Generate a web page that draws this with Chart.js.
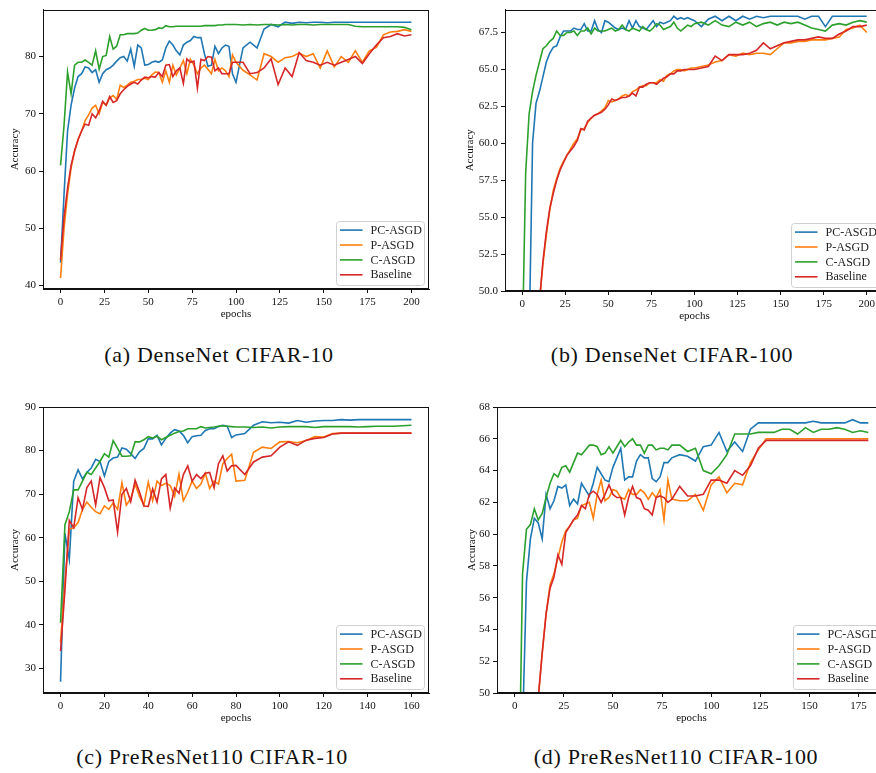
<!DOCTYPE html>
<html>
<head>
<meta charset="utf-8">
<script src="https://cdn.jsdelivr.net/npm/chart.js@4.4.1/dist/chart.umd.min.js"></script>
<style>
html, body { margin: 0; padding: 0; overflow: hidden; background: #fff; }
body { width: 876px; height: 773px; position: relative; }
canvas { position: absolute; }
.cap { position: absolute; font-family: "Liberation Serif", "DejaVu Serif", serif; font-size: 22px; letter-spacing: 0.7px;
       color: #111; transform: translate(-50%, -50%); white-space: nowrap; }
</style>
</head>
<body>
<canvas id="cA" width="440" height="325" style="left:0;top:0"></canvas>
<canvas id="cB" width="440" height="325" style="left:460px;top:0"></canvas>
<canvas id="cC" width="440" height="335" style="left:0;top:395px"></canvas>
<canvas id="cD" width="440" height="335" style="left:460px;top:395px"></canvas>
<div class="cap" style="left:219px;top:355px">(a) DenseNet CIFAR-10</div>
<div class="cap" style="left:672px;top:355px">(b) DenseNet CIFAR-100</div>
<div class="cap" style="left:212px;top:757px">(c) PreResNet110 CIFAR-10</div>
<div class="cap" style="left:676px;top:757px">(d) PreResNet110 CIFAR-100</div>
<script>
const names = ["PC-ASGD", "P-ASGD", "C-ASGD", "Baseline"];
const colors = ["#1f77b4", "#ff7f0e", "#2ca02c", "#d62728"];

// (a) DenseNet CIFAR-10
const epochsA = [0,2,4,6,8,10,12,14,16,18,20,22,24,26,28,30,32,34,36,38,40,42,44,46,48,50,52,54,56,58,60,62,64,66,68,70,72,74,76,78,80,82,84,86,88,90,92,94,96,98,100,
  104,108,112,116,120,124,128,132,136,140,144,148,152,156,160,164,168,172,176,180,184,188,192,196,200];
const pcA = [44,56,67,71.5,74.5,76.5,77,78.2,78,77.2,77.7,75.5,77,77.7,78,78.5,79.2,79.8,80,79.2,81.3,78.3,82,81.5,78.5,78.6,79,79.2,79,79.4,81.5,82.7,82,81,80.3,82,82.5,82.8,83.5,83.3,83.3,80.5,78.3,78.5,81.8,80.5,81.5,82,81.8,77,75.5,
  81.5,82.5,81.5,84.8,85.6,85.2,86,85.8,86,85.9,86,86,85.9,86,86,86,86,86,86,86,86,86,86,86,86];
const pA = [41.3,50,56,60.5,63.5,65.5,67,68.8,69.8,71,71.5,70,72,71.5,72.8,73.2,72.5,75,74.6,75,75.5,75.7,76,76,76.2,76,76.8,77.3,77.2,75.5,77.5,75.5,78.5,76.8,78,79.3,77,79.5,78.5,77,78,78.5,77.8,77,79.5,77.5,78,77.5,76.5,80.3,79,
  77.6,76.8,75.9,80.5,80,79,79.8,80,80.6,80,80.5,78,81,78.2,80,79,81,79,81,81.6,83.8,84.3,84.4,84.7,84.4];
const cA = [61,68,77.3,73.5,78.5,79,79,79.4,79,78.5,81,77.8,80,80.2,83.5,81.3,81.8,83.8,83.8,84,84,84,84.1,84.6,84.9,84.6,84.6,84.7,85,84.9,85.4,85.2,85.2,85.3,85.3,85.3,85.3,85.3,85.3,85.3,85.3,85.4,85.4,85.4,85.4,85.5,85.5,85.6,85.6,85.6,85.6,
  85.5,85.6,85.5,85.6,85.6,85.5,85.6,85.5,85.6,85.6,85.5,85.6,85.6,85.6,85.6,85.6,85.3,85.2,85.2,85.2,85.2,85.2,85.2,85.1,84.7];
const baseA = [44.5,52,57,61,63.5,65.5,67,68.2,68,70,69.3,70.5,72.2,71.5,73,72,72.3,73.5,74.2,74.8,75.2,75.5,75.2,75.9,76.4,76.3,76.5,76.4,77.2,76.5,78.5,78.6,76.5,77.5,78,75.3,79.6,79,79.2,74.5,79.5,79.3,80,79.9,77.5,78,77,77,77,79,79,
  79,77,77.2,78,79.6,75.1,78,76.5,80.7,79.3,79,78.5,79,78.5,79,79.5,80,78.8,80.5,82,83.3,83.5,84,83.6,83.8];

// (b) DenseNet CIFAR-100
const epochsB = [0,2,4,6,8,10,12,14,16,18,20,22,24,26,28,30,32,34,36,38,40,42,44,46,48,50,52,54,56,58,60,62,64,66,68,70,72,74,76,78,80,82,84,86,88,90,92,94,96,98,100,
  104,108,112,116,120,124,128,132,136,140,144,148,152,156,160,164,168,172,176,180,184,188,192,196,200];
const pcB = [20,35,46.7,60,62.7,63.5,64.5,65.5,66.1,66.5,66.6,67.2,67.6,67.6,67.6,67.8,67.7,67.7,68.1,67.6,67.6,68.3,67.7,67.5,68.3,68.2,68,67.8,67.7,67.8,67.7,68.3,67.8,68.3,67.9,67.8,67.7,68,68.3,67.9,68.2,68.1,68.2,68.3,68.6,68.4,68.5,68.4,68.5,68.4,68.3,
  67.9,68.4,68.6,68.3,68.6,68.3,68.6,68.4,68.6,68.5,68.6,68.6,68.6,68.6,68.6,68.4,68.6,68.6,67.9,68.6,68.6,68.6,68.6,68.6,68.6];
const pB = [20,30,37,42,46,49.3,51.8,53.8,55.5,56.8,57.6,58.3,58.8,59.2,59.6,60,60.3,60.9,61,61.4,61.7,61.9,62,62.2,62.4,62.9,62.8,62.9,63,63.2,63.3,63.2,63.5,63.6,63.8,63.9,63.9,64.1,64.1,64.1,64.3,64.2,64.6,64.7,64.9,65,65,64.9,65,65.1,65.1,
  65.2,65.3,65.5,65.6,66,65.9,66.1,66,66.1,66.1,66,66.4,66.8,66.8,66.9,66.9,67,67,67,67.1,67.2,67.7,67.8,68,67.5];
const cB = [46,58,62,63.5,64.6,65.5,66.4,66.6,66.9,67.1,67.6,67.3,67.3,67.5,67.5,67.6,67.3,67.6,67.6,67.8,67.4,67.8,67.6,67.6,67.6,67.7,67.8,67.6,67.7,68,67.7,67.6,67.8,67.7,67.6,67.9,67.7,67.6,67.8,68.1,68,67.7,67.8,67.9,68.2,67.8,67.6,67.8,68,67.9,68.1,
  68.2,68,68.3,68,67.9,68.2,68,68.2,67.9,68.1,68.2,68,68.2,68.1,68.2,68,67.8,67.7,67.6,68,68.1,68,68.2,68.3,68.2];
const baseB = [20,30,37,42,46,49.3,52,54,55.6,56.6,57.5,58.2,58.7,59.2,59.5,59.8,60.2,61,60.9,61.5,61.7,61.9,62,62.1,62.3,62.6,63,62.9,63,63.1,63.1,63.2,63.4,63.2,63.8,63.8,64,64.1,64.1,64,64.2,64.4,64.5,64.7,64.7,64.9,64.9,65,65,65,65,
  65.1,65.2,65.9,65.6,66,66,66,66.1,66.3,66.8,66.4,66.6,66.8,66.9,67,67,67.1,67.2,67.1,67.1,67.4,67.6,67.9,67.9,68];

// (c) PreResNet110 CIFAR-10
const epochsC = [0,2,4,6,8,10,12,14,16,18,20,22,24,26,28,30,32,34,36,38,40,42,44,46,48,50,52,54,56,58,60,62,64,66,68,70,72,74,76,78,80,
  84,88,92,96,100,104,108,112,116,120,124,128,132,136,140,144,148,152,156,160];
const pcC = [27,61,55,73,75.6,73.5,75,76,78,77.5,74.2,77.5,78.3,78.5,80.6,80.3,79.3,78.2,79.7,80.5,82.7,82.7,83.5,81.3,82.8,84,84.8,84.5,83.5,81.8,83.2,83.4,83.5,84.6,85,85,85.5,85.8,85.6,83,83.6,
  83.9,85.8,86.6,86.4,86.5,86.3,86.9,86.5,86.8,86.9,86.9,87.1,87,87.1,87.1,87.1,87.1,87.1,87.1,87.1];
const pC = [36,50,62,62.3,63.5,66.5,68.2,67,66,65.5,67.3,66.5,68,66.5,72.6,67.5,69,72.3,69.5,67.5,72.8,68.5,73,72,72.5,72,69.5,74.6,68.5,70.5,73,71.3,72.3,74.8,71.3,73,72.3,77,78.2,79.2,73,
  73.2,79.6,80.8,80.5,82,82.1,81.8,82.3,83.2,83.1,83.9,84,84,84,84,84,84,84,84,84];
const cC = [40.5,63,66,71,71,73,75,74.5,76,77.5,79.3,78.5,82.3,80.5,78.7,78.7,78.8,82,82,82.5,83.2,82.9,83.3,82.5,83,83.5,84,84.4,84.5,85,85,85,85.5,85.2,85.3,85.4,85.6,85.7,85.6,85.5,85.4,
  85.4,85.3,85.4,85.2,85.4,85.5,85.5,85.5,85.3,85.5,85.5,85.5,85.5,85.4,85.5,85.6,85.6,85.6,85.7,85.8];
const baseC = [34,48,64,62.3,69.2,66.5,71.5,73,67.5,73.8,71.5,68.5,68.7,61.3,70,71.3,68.3,73.2,70.5,67.3,67.2,71.2,68.2,73.5,74.5,66.8,71.4,70.2,74.5,76.5,73,74.5,73.6,74.8,75,71.5,77,78.8,75.3,76.5,76.6,
  74.5,77.4,78.5,78.8,80.8,82,81.2,82.4,82.8,83,83.8,84,84,84,84,84,84,84,84,84];

// (d) PreResNet110 CIFAR-100
const epochsD = [0,2,4,6,8,10,12,14,16,18,20,22,24,26,28,30,32,34,36,38,40,42,44,46,48,50,52,54,56,58,60,62,64,66,68,70,72,74,76,78,80,
  84,88,92,96,100,104,108,112,116,120,124,128,132,136,140,144,148,152,156,160,164,168,172,176,180];
const pcD = [15,35,47.7,57,59.7,61,60.7,59.7,62.5,61.6,62.1,63,62.9,63.1,61.8,62.2,61.9,63.2,62.8,62.4,63.2,64.2,63.8,63.4,63.3,64.2,64.8,65.4,63.4,63.6,63.6,64.6,65,64.8,64.8,63.5,63.3,63.6,64.5,64.5,64.8,
  65,64.9,64.6,65.5,65.6,66.4,65.2,65.8,65.2,66.6,67,67,67,67,67,67,67,67.1,67,67,67,67,67.2,67,67];
const pD = [15,25,33,38,42,46,49.7,52.5,55,56.8,57.5,58.5,59.5,60.2,60.5,60.9,61,61.8,61.9,62,61,62.5,63.4,62.1,62.3,62.8,62.7,62.3,62.2,62.8,62.5,62.5,62.8,62.6,62.2,62.6,62.3,62.8,60.9,63.4,62.2,
  62.1,62.1,62.5,61.5,63.1,63.6,62.6,63.2,63.1,64.5,65.3,66,66,66,66,66,66,66,66,66,66,66,66,66,66];
const cD = [20,42.5,57.5,60.3,60.6,61.6,60.9,61.3,62.3,63.2,63.8,63.6,64.2,64.3,63.9,64.5,65.1,65,65.3,65.6,65.6,65.5,65,65.1,65.5,65.1,65.5,65.9,65.5,65.8,66,65.6,65.6,65.1,65.6,65.6,65.3,65.4,65.4,65.3,65.6,
  65.6,65.2,65.4,64,63.8,64.3,65,66.3,66.3,66.3,66.4,66.4,66.4,66.6,66.6,66.3,66.7,66.4,66.6,66.6,66.7,66.6,66.4,66.5,66.4];
const baseD = [15,25,33,38,42,46,49.7,52.5,55,56.6,57.3,58.7,58.1,60.1,60.5,60.9,61.2,61.8,61.6,62.5,62.7,62.5,62,62.5,63.1,62.5,62.3,62.3,61.2,62.3,63,62.3,62.2,61.6,61.5,61.2,62.3,62.4,62.3,62,62.2,
  63,62.4,62.4,62.5,63.4,63.4,63.2,64,63.7,64.3,65.4,65.9,65.9,65.9,65.9,65.9,65.9,65.9,65.9,65.9,65.9,65.9,65.9,65.9,65.9];

const xTicksA = [0,25,50,75,100,125,150,175,200];
const yTicksA = [40,50,60,70,80];
const xTicksB = [0,25,50,75,100,125,150,175,200];
const yTicksB = [50,52.5,55,57.5,60,62.5,65,67.5];
const xTicksC = [0,20,40,60,80,100,120,140,160];
const yTicksC = [30,40,50,60,70,80,90];
const xTicksD = [0,25,50,75,100,125,150,175];
const yTicksD = [50,52,54,56,58,60,62,64,66,68];

const serif = "'Liberation Serif', 'DejaVu Serif', serif";
const tickFont = { family: serif, size: 11 };
const ink = "#111";

const panelDecor = {
  id: "panelDecor",
  afterDraw(chart, args, opts) {
    const ctx = chart.ctx, a = chart.chartArea;
    ctx.save();
    // full frame like matplotlib spines
    ctx.strokeStyle = ink;
    ctx.lineWidth = 1;
    ctx.strokeRect(Math.round(a.left) + 0.5, Math.round(a.top) + 0.5,
                   Math.round(a.right - a.left) - 1, Math.round(a.bottom - a.top) - 1);
    // axis titles
    ctx.fillStyle = ink;
    ctx.font = "11px " + serif;
    ctx.textAlign = "center";
    ctx.textBaseline = "middle";
    ctx.fillText("epochs", (a.left + a.right) / 2, a.bottom + 25);
    ctx.translate(opts.ylabX, (a.top + a.bottom) / 2);
    ctx.rotate(-Math.PI / 2);
    ctx.fillText("Accuracy", 0, 0);
    ctx.restore();

    // legend box, lower right inside the axes
    ctx.save();
    const w = 88, h = 64;
    const bx = Math.round(a.right - 5.5 - w) + 0.5, by = Math.round(a.bottom - 4.5 - h) + 0.5;
    ctx.globalAlpha = 0.85;
    ctx.fillStyle = "#fff";
    ctx.beginPath();
    ctx.roundRect(bx, by, w, h, 3);
    ctx.fill();
    ctx.globalAlpha = 1;
    ctx.strokeStyle = "#d0d0d0";
    ctx.lineWidth = 1;
    ctx.stroke();
    ctx.font = "12px " + serif;
    ctx.textBaseline = "middle";
    ctx.textAlign = "left";
    names.forEach((n, i) => {
      const yy = by + 8.6 + i * 14.9;
      ctx.strokeStyle = colors[i];
      ctx.lineWidth = 1.6;
      ctx.beginPath();
      ctx.moveTo(bx + 3.5, yy);
      ctx.lineTo(bx + 26, yy);
      ctx.stroke();
      ctx.fillStyle = "#222";
      ctx.fillText(n, bx + 34, yy + 0.5);
    });
    ctx.restore();
  }
};

function drawPanel(id, p) {
  const ctx = document.getElementById(id).getContext("2d");
  const datasets = names.map((n, i) => ({
    label: n,
    data: p.epochs.map((e, j) => ({ x: e, y: p.series[i][j] })),
    borderColor: colors[i],
    borderWidth: 1.6,
    pointRadius: 0,
    tension: 0,
    fill: false,
    order: 4 - i
  }));
  return new Chart(ctx, {
    type: "line",
    data: { datasets },
    options: {
      responsive: false,
      animation: false,
      events: [],
      layout: { padding: p.pad },
      plugins: { legend: { display: false }, tooltip: { enabled: false }, panelDecor: { ylabX: p.ylabX } },
      scales: {
        x: {
          type: "linear", min: p.xMin, max: p.xMax,
          afterBuildTicks: s => { s.ticks = p.xTicks.map(v => ({ value: v })); },
          afterFit: s => { s.height = p.xh; },
          grid: { drawOnChartArea: false, tickLength: 4, color: ink },
          border: { color: ink },
          ticks: { font: tickFont, color: ink, padding: 3, maxRotation: 0, autoSkip: false }
        },
        y: {
          type: "linear", min: p.yMin, max: p.yMax,
          afterBuildTicks: s => { s.ticks = p.yTicks.map(v => ({ value: v })); },
          afterFit: s => { s.width = p.yw; },
          grid: { drawOnChartArea: false, tickLength: 4, color: ink },
          border: { color: ink },
          ticks: { font: tickFont, color: ink, padding: 3, autoSkip: false,
                   callback: v => p.yDec ? Number(v).toFixed(p.yDec) : String(v) }
        }
      }
    },
    plugins: [panelDecor]
  });
}

drawPanel("cA", { epochs: epochsA, series: [pcA, pA, cA, baseA], xMin: -10, xMax: 210, yMin: 39.4, yMax: 88.2,
  xTicks: xTicksA, yTicks: yTicksA, yDec: 0, pad: { top: 3, right: 11, left: 0, bottom: 0 }, yw: 43, xh: 36, ylabX: 15 });
drawPanel("cB", { epochs: epochsB, series: [pcB, pB, cB, baseB], xMin: -10, xMax: 210, yMin: 50, yMax: 69.05,
  xTicks: xTicksB, yTicks: yTicksB, yDec: 1, pad: { top: 8, right: 16, left: 0, bottom: 0 }, yw: 45, xh: 34, ylabX: 10 });
drawPanel("cC", { epochs: epochsC, series: [pcC, pC, cC, baseC], xMin: -8, xMax: 168, yMin: 24.4, yMax: 90,
  xTicks: xTicksC, yTicks: yTicksC, yDec: 0, pad: { top: 12, right: 11, left: 0, bottom: 0 }, yw: 43, xh: 37, ylabX: 15 });
drawPanel("cD", { epochs: epochsD, series: [pcD, pD, cD, baseD], xMin: -9, xMax: 189, yMin: 50, yMax: 68,
  xTicks: xTicksD, yTicks: yTicksD, yDec: 0, pad: { top: 12, right: 14, left: 0, bottom: 0 }, yw: 37, xh: 37, ylabX: 12 });
</script>
</body>
</html>
